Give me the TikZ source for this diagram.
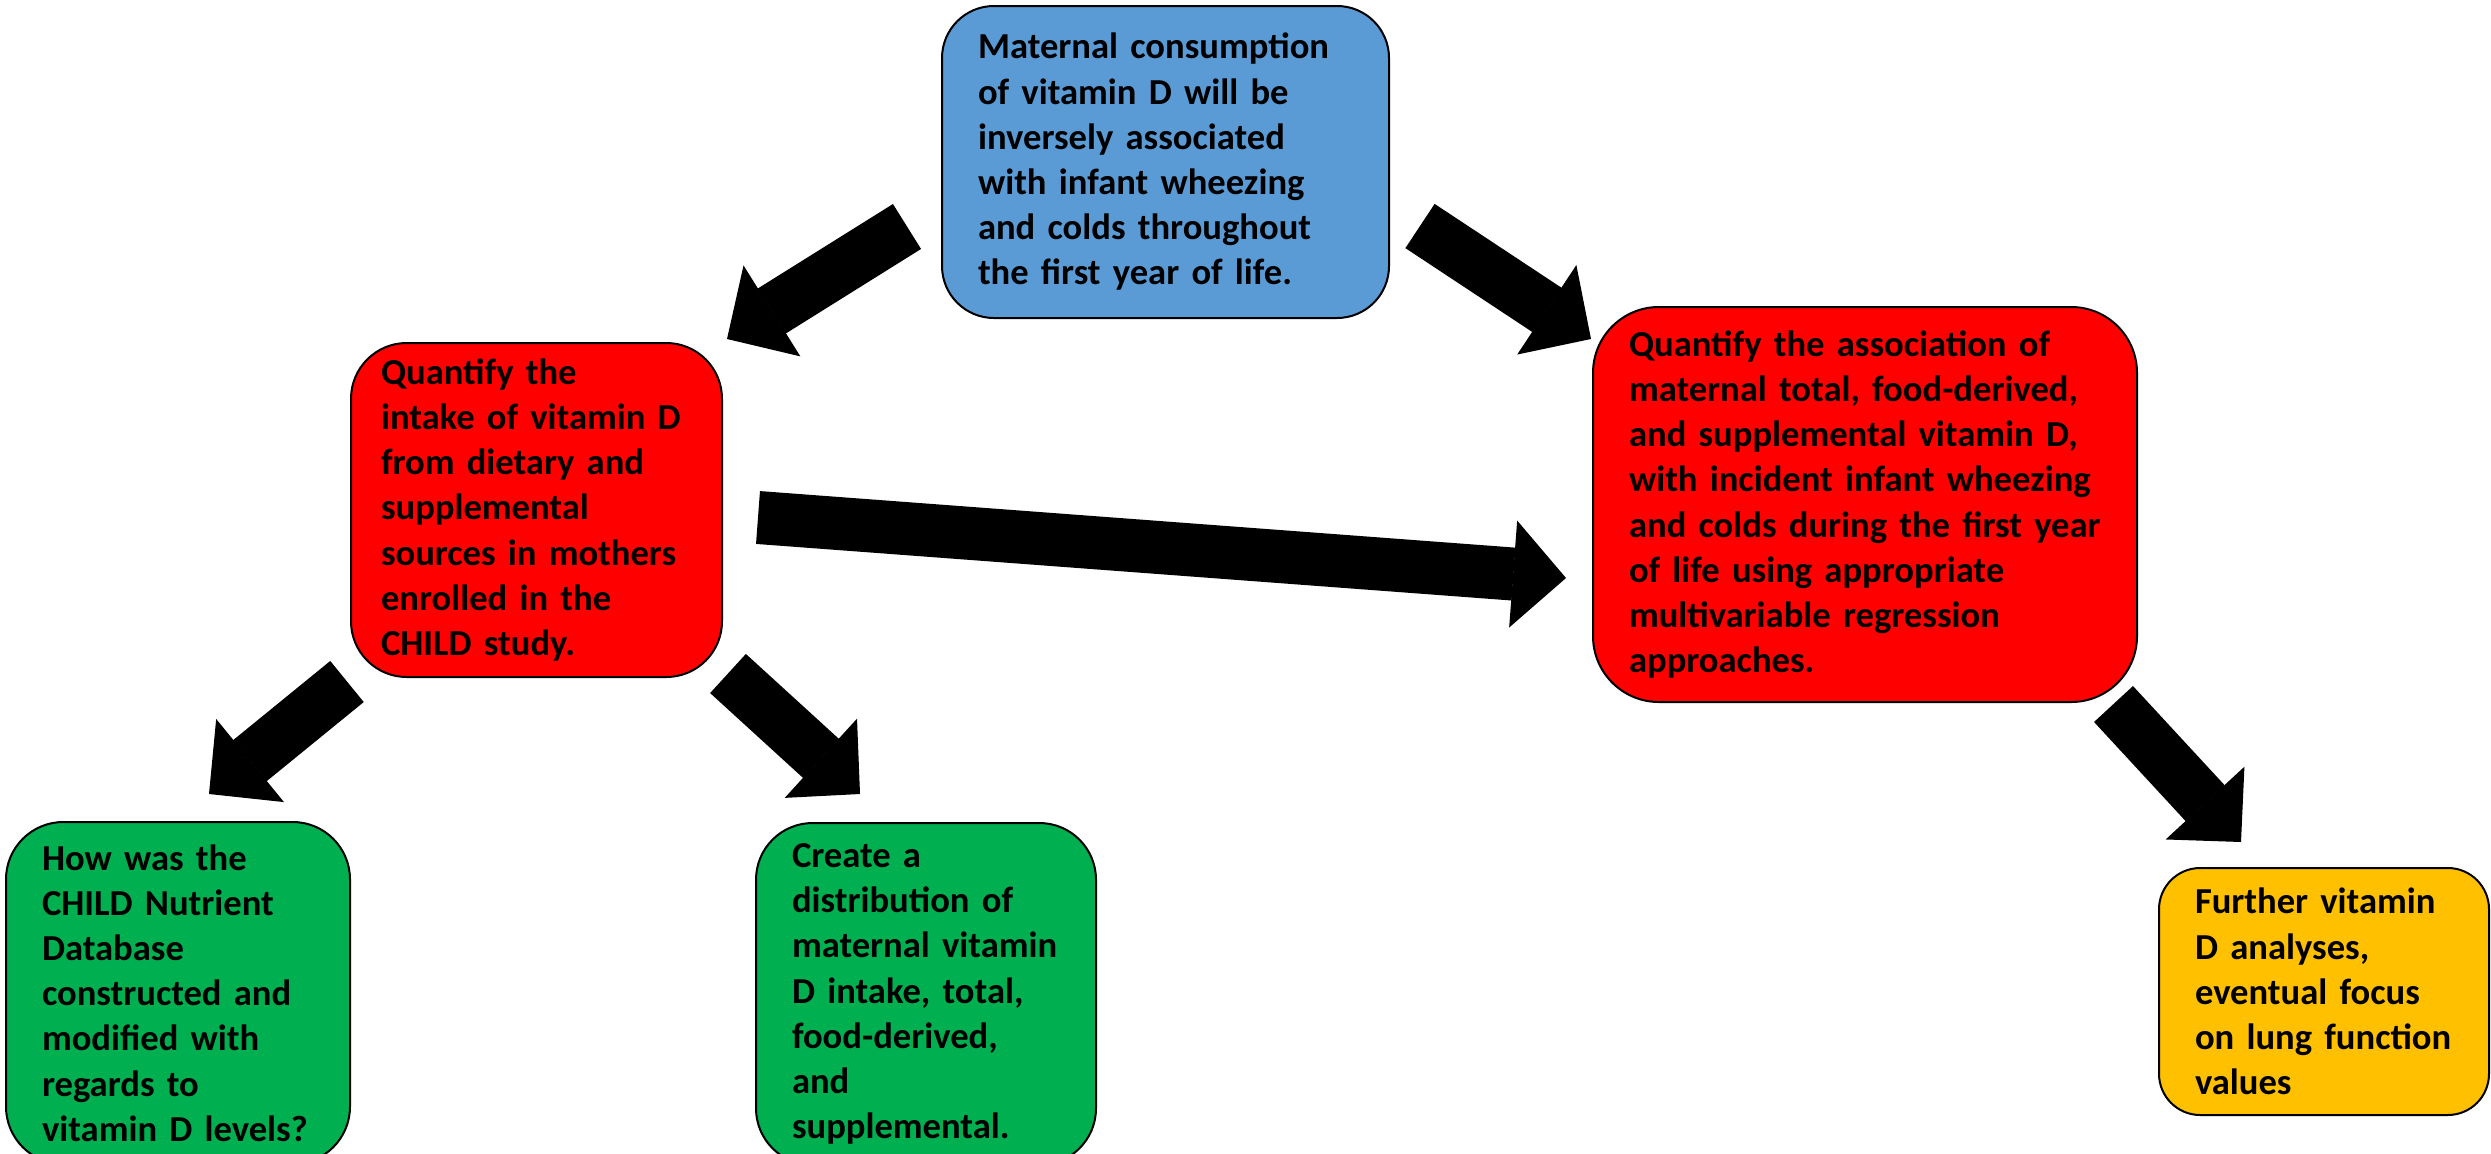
\documentclass[tikz,border=0pt]{standalone}
\usepackage{fontspec}
\setmainfont{Carlito}
\usetikzlibrary{arrows.meta}

\definecolor{hypblue}{HTML}{5B9BD5}
\definecolor{aimred}{HTML}{FF0000}
\definecolor{qgreen}{HTML}{00B050}
\definecolor{futgold}{HTML}{FFC000}

\tikzset{every picture/.style={line width=0.75pt}}
\tikzset{
  box/.style={draw=black, line width=1.5pt, align=left, inner xsep=27pt, inner ysep=0pt,
    font=\fontsize{27.45}{33.9}\selectfont\bfseries},
  blockarrow/.style={draw=black, line width=39.75pt,
    -{Triangle[length=39.75pt,width=80.25pt,line width=1pt]}},
}

\begin{document}
\begin{tikzpicture}[x=0.75pt,y=0.75pt,yscale=-1,xscale=1]
\useasboundingbox (0,0) rectangle (2491,1153);

% Hypothesis
\node[box, fill=hypblue, rounded corners=39pt, minimum width=335.25pt, minimum height=234pt, text width=281.25pt] (hyp) at (1165.5,162)
  {Maternal consumption\\of vitamin D will be\\inversely associated\\with infant wheezing\\and colds throughout\\the first year of life.};

% Aims
\node[box, fill=aimred, rounded corners=41.8pt, minimum width=278.25pt, minimum height=250.5pt, inner xsep=22.5pt, text width=233.25pt] (aimone) at (536.5,510)
  {Quantify the\\intake of vitamin D\\from dietary and\\supplemental\\sources in mothers\\enrolled in the\\CHILD study.};
\node[box, fill=aimred, rounded corners=49.4pt, minimum width=408pt, minimum height=296.25pt, text width=354pt] (aimtwo) at (1865,504.5)
  {Quantify the association of\\maternal total, food-derived,\\and supplemental vitamin D,\\with incident infant wheezing\\and colds during the first year\\of life using appropriate\\multivariable regression\\approaches.};

% Sub-questions
\node[box, fill=qgreen, rounded corners=43pt, minimum width=258pt, minimum height=256.5pt, text width=204pt] (qone) at (178,993)
  {How was the\\CHILD Nutrient\\Database\\constructed and\\modified with\\regards to\\vitamin D levels?};
\node[box, fill=qgreen, rounded corners=42.5pt, minimum width=255pt, minimum height=256.5pt, text width=201pt] (qtwo) at (926,994)
  {Create a\\distribution of\\maternal vitamin\\D intake, total,\\food-derived,\\and\\supplemental.};

% Future work
\node[box, fill=futgold, rounded corners=30.9pt, minimum width=247.5pt, minimum height=185.25pt, text width=193.5pt] (fut) at (2324,991.5)
  {Further vitamin\\D analyses,\\eventual focus\\on lung function\\values};

% Arrow ends
\coordinate (hyp-l) at (907,226.5);
\coordinate (aimone-t) at (727,339);
\coordinate (hyp-r) at (1420,226);
\coordinate (aimtwo-t) at (1591,339);
\coordinate (aimone-r) at (758,517.5);
\coordinate (aimtwo-l) at (1566,578);
\coordinate (aimone-bl) at (347,681.5);
\coordinate (qone-t) at (209,794);
\coordinate (aimone-br) at (728,673.5);
\coordinate (qtwo-t) at (860,794);
\coordinate (aimtwo-b) at (2113.5,704);
\coordinate (fut-t) at (2241,842);

% Block arrows
\draw[blockarrow] (hyp-l) -- (aimone-t);
\draw[blockarrow] (hyp-r) -- (aimtwo-t);
\draw[blockarrow] (aimone-r) -- (aimtwo-l);
\draw[blockarrow] (aimone-bl) -- (qone-t);
\draw[blockarrow] (aimone-br) -- (qtwo-t);
\draw[blockarrow] (aimtwo-b) -- (fut-t);
\end{tikzpicture}
\end{document}
